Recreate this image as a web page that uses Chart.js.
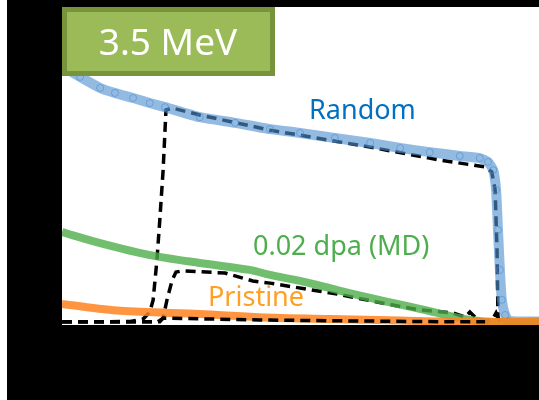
<!DOCTYPE html>
<html lang="en">

<head>
  <meta charset="utf-8">
  <title>3.5 MeV yield</title>
  <script src="https://cdn.jsdelivr.net/npm/chart.js@4.4.1/dist/chart.umd.min.js"></script>
  <style>
    body { margin: 0; background: #000; overflow: hidden; }
    canvas { display: block; }
  </style>
</head>

<body>
  <canvas id="myChart" width="539" height="400"></canvas>

  <script>
    // channel (0-100) and normalized yield (%)
    const randomX = [0, 3.8, 8.0, 11.1, 14.9, 18.4, 21.6, 28.9, 36.3, 43.6, 49.9, 57.2, 64.6, 70.9, 77.1, 83.4, 87.6, 89.3, 90.4, 91.0, 91.4, 91.8, 92.2, 92.9, 93.7, 100];
    const randomY = [81.3, 77.8, 74.3, 72.7, 71.1, 69.5, 68.2, 65.0, 63.2, 61.2, 60.0, 58.4, 56.8, 55.2, 53.9, 52.7, 52.0, 50.8, 48.2, 41.9, 29.2, 16.5, 7.0, 2.2, 0.3, 0.1];

    const dpaX = [0, 8.0, 18.4, 28.9, 39.4, 43.6, 49.9, 57.7, 64.6, 71.5, 77.1, 83.4, 89.7, 100];
    const dpaY = [28.5, 25.0, 21.2, 18.7, 16.5, 14.9, 13.0, 10.1, 7.6, 5.3, 3.4, 1.2, 0, 0];

    const pristineX = [0, 12.2, 28.9, 41.5, 56.2, 70.9, 83.4, 100];
    const pristineY = [5.7, 3.5, 2.5, 1.5, 0.9, 0.4, 0, 0];

    // MD simulations (dashed)
    const mdRandomX = [0, 14.3, 17.0, 18.4, 19.1, 19.9, 20.5, 21.2, 21.8, 23.1, 28.9, 43.6, 64.6, 79.2, 88.7, 90.1, 90.8, 91.2, 91.4, 91.8];
    const mdRandomY = [0, 0.1, 0.9, 3.1, 6.9, 19.6, 32.3, 48.2, 67.3, 67.9, 65.7, 60.9, 55.5, 51.4, 49.2, 47.6, 41.9, 22.8, 1.5, 0];

    const mdDpaX = [0, 20.1, 21.2, 22.0, 23.1, 23.9, 25.2, 34.2, 40.0, 43.6, 57.7, 71.5, 75.1, 82.0, 84.5, 85.5, 86.8, 89.1, 90.4, 91.0, 91.8];
    const mdDpaY = [0, 0, 1.2, 6.9, 13.3, 15.8, 16.2, 15.5, 13.0, 12.3, 8.8, 4.7, 3.8, 2.8, 1.5, 3.1, 1.2, 0, 1.2, 2.8, 0];

    const mdPristineX = [0, 20.5, 21.2, 41.5, 60.4, 83.4, 88.7];
    const mdPristineY = [0, 0, 1.2, 0.6, 0.3, 0, 0];

    const pts = (xs, ys) => xs.map((x, i) => ({ x: x, y: ys[i] }));

    const band = (label, xs, ys, color, width, tension) => ({
      label: label,
      data: pts(xs, ys),
      borderColor: color,
      borderWidth: width,
      pointRadius: 0,
      tension: tension,
      clip: 0
    });

    const dashed = (label, xs, ys) => ({
      label: label,
      data: pts(xs, ys),
      borderColor: '#000',
      borderWidth: 3.5,
      borderDash: [10, 6],
      pointRadius: 0,
      tension: 0,
      clip: 0
    });

    const frame = {
      id: 'frame',
      beforeDraw(chart) {
        const { ctx, chartArea: a } = chart;
        ctx.save();
        ctx.fillStyle = '#000';
        ctx.fillRect(0, 0, chart.width, chart.height);
        ctx.fillStyle = '#fff';
        ctx.fillRect(0, 0, 7, chart.height);
        ctx.fillRect(a.left, a.top, a.right - a.left, a.bottom - a.top);
        ctx.restore();
      },
      afterDatasetsDraw(chart) {
        const { ctx, chartArea: a } = chart;
        ctx.save();
        // energy tag
        ctx.fillStyle = '#9bbb59';
        ctx.fillRect(a.left, a.top, 213, 69);
        ctx.strokeStyle = '#77933c';
        ctx.lineWidth = 5;
        ctx.strokeRect(a.left + 2.5, a.top + 2.5, 208, 64);
        ctx.fillStyle = '#fff';
        ctx.textAlign = 'center';
        ctx.textBaseline = 'alphabetic';
        ctx.font = '37px "Noto Sans"';
        ctx.fillText('3.5 MeV', a.left + 106, 55);

        ctx.textAlign = 'left';
        ctx.font = '27px "Noto Sans"';
        ctx.fillStyle = '#0070c0';
        ctx.fillText('Random', 309, 119);
        ctx.fillStyle = '#4cae4c';
        ctx.fillText('0.02 dpa (MD)', 253, 255);
        ctx.fillStyle = '#ffa024';
        ctx.fillText('Pristine', 208, 306);
        ctx.restore();
      }
    };

    const randomMarks = {
      label: 'Random marks',
      data: pts(randomX, randomY),
      showLine: false,
      pointRadius: 3.5,
      pointBorderWidth: 1,
      pointBorderColor: 'rgba(60, 130, 200, 0.6)',
      pointBackgroundColor: 'rgba(255, 255, 255, 0)',
      clip: 0
    };

    const config = {
      type: 'line',
      data: {
        datasets: [
          dashed('MD pristine', mdPristineX, mdPristineY),
          band('Pristine', pristineX, pristineY, 'rgba(255, 130, 30, 0.85)', 8, 0.3),
          band('0.02 dpa', dpaX, dpaY, 'rgba(77, 175, 74, 0.8)', 8, 0.3),
          band('Random', randomX, randomY, 'rgba(80, 145, 208, 0.62)', 10, 0.15),
          randomMarks,
          dashed('MD 0.02 dpa', mdDpaX, mdDpaY),
          dashed('MD random', mdRandomX, mdRandomY)
        ]
      },
      options: {
        responsive: false,
        animation: false,
        layout: { autoPadding: false, padding: { left: 62, top: 7, right: 0, bottom: 75 } },
        scales: {
          x: { type: 'linear', min: 0, max: 100, display: false },
          y: { min: -1, max: 100, display: false }
        },
        plugins: {
          legend: { display: false },
          tooltip: { enabled: false }
        }
      },
      plugins: [frame]
    };

    new Chart(document.getElementById('myChart'), config);
  </script>
</body>

</html>
